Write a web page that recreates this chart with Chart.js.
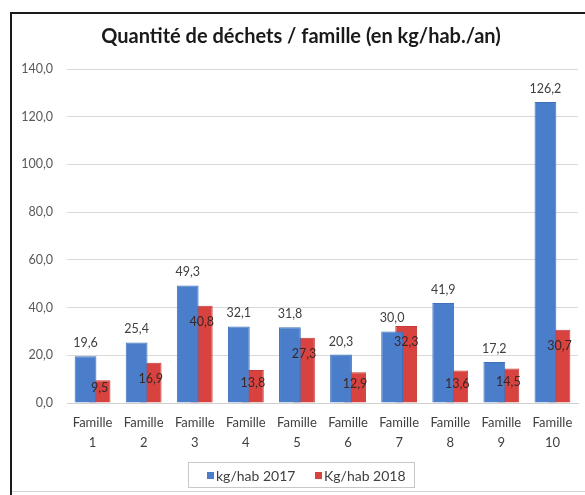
<!DOCTYPE html>
<html>
<head>
<meta charset="utf-8">
<script src="https://cdn.jsdelivr.net/npm/chart.js@4"></script>
<style>
  html, body { margin: 0; padding: 0; background: #fff; }
  #wrap { position: relative; width: 585px; height: 495px; overflow: hidden; }
  #frame { position: absolute; left: 10px; top: 12px; width: 600px; height: 500px;
           border-left: 2px solid #1a1a1a; border-top: 2px solid #1a1a1a; box-sizing: border-box; }
  #bottomLine { position: absolute; left: 12px; top: 491px; width: 600px; height: 1px; background: #d4d4d4; }
  canvas { position: absolute; left: 0; top: 0; }
</style>
</head>
<body>
<div id="wrap">
  <div id="frame"></div>
  <div id="bottomLine"></div>
  <canvas id="chart" width="585" height="495"></canvas>
</div>
<script>
const categories = [
  ["Famille", "1"], ["Famille", "2"], ["Famille", "3"], ["Famille", "4"], ["Famille", "5"],
  ["Famille", "6"], ["Famille", "7"], ["Famille", "8"], ["Famille", "9"], ["Famille", "10"]
];
const values2017 = [19.6, 25.4, 49.3, 32.1, 31.8, 20.3, 30.0, 41.9, 17.2, 126.2];
const values2018 = [9.5, 16.9, 40.8, 13.8, 27.3, 12.9, 32.3, 13.6, 14.5, 30.7];
const seriesNames = ["kg/hab 2017", "Kg/hab 2018"];
const titleText = "Quantité de déchets / famille (en kg/hab./an)";

const FONT = "Lato, 'Open Sans', sans-serif";
const BLUE = "#4a7ecb";
const RED = "#d8423f";

function frNumber(v) {
  return v.toFixed(1).replace(".", ",");
}

const valueLabels = {
  id: "valueLabels",
  afterDatasetsDraw(chart) {
    const ctx = chart.ctx;
    ctx.save();
    ctx.font = "12.5px " + FONT;
    ctx.textAlign = "center";
    ctx.textBaseline = "middle";
    chart.data.datasets.forEach((ds, i) => {
      chart.getDatasetMeta(i).data.forEach((bar, j) => {
        const text = frNumber(ds.data[j]);
        if (i === 0) {
          ctx.fillStyle = "#404040";
          ctx.fillText(text, bar.x, bar.y - 13);
        } else {
          const h = bar.base - bar.y;
          ctx.fillStyle = "#3a2626";
          ctx.fillText(text, bar.x, bar.y + Math.min(16, h / 2 - 3));
        }
      });
    });
    ctx.restore();
  }
};

const titleAndLegend = {
  id: "titleAndLegend",
  afterDraw(chart) {
    const ctx = chart.ctx;
    ctx.save();
    // titre
    ctx.font = "bold 20px " + FONT;
    ctx.fillStyle = "#1a1a1a";
    ctx.textAlign = "center";
    ctx.textBaseline = "middle";
    ctx.fillText(titleText, 301, 37);

    // légende
    ctx.strokeStyle = "#c8c8c8";
    ctx.lineWidth = 1;
    ctx.strokeRect(188.5, 462.5, 226, 25);
    ctx.font = "14px " + FONT;
    ctx.textAlign = "left";
    const items = [
      { x: 207, color: BLUE, label: seriesNames[0] },
      { x: 315, color: RED, label: seriesNames[1] }
    ];
    items.forEach((it) => {
      ctx.fillStyle = it.color;
      ctx.fillRect(it.x, 472, 7, 7);
      ctx.fillStyle = "#404040";
      ctx.fillText(it.label, it.x + 9, 476);
    });
    ctx.restore();
  }
};

new Chart(document.getElementById("chart"), {
  type: "bar",
  data: {
    labels: categories,
    datasets: [
      {
        label: seriesNames[0],
        data: values2017,
        backgroundColor: BLUE,
        borderColor: "#3f70bb",
        borderWidth: 1,
        categoryPercentage: 0.55,
        barPercentage: 1.55
      },
      {
        label: seriesNames[1],
        data: values2018,
        backgroundColor: RED,
        borderColor: "#c53a37",
        borderWidth: 1,
        categoryPercentage: 0.55,
        barPercentage: 1.55
      }
    ]
  },
  options: {
    responsive: false,
    animation: false,
    layout: { padding: { top: 69, right: 7, left: 0, bottom: 32 } },
    plugins: {
      legend: { display: false },
      title: { display: false },
      tooltip: { enabled: false }
    },
    scales: {
      x: {
        grid: { display: false },
        border: { display: true, color: "#d0d0d0" },
        ticks: {
          font: { family: FONT, size: 13, lineHeight: 1.55 },
          color: "#404040",
          padding: 2,
          maxRotation: 0,
          autoSkip: false
        },
        afterFit(scale) { scale.height = 60; }
      },
      y: {
        min: 0,
        max: 140,
        grid: { color: "#d9d9d9", drawTicks: false },
        border: { display: false },
        ticks: {
          stepSize: 20,
          font: { family: FONT, size: 12.5 },
          color: "#595959",
          padding: 14,
          callback: (v) => frNumber(v)
        },
        afterFit(scale) { scale.width = 67; }
      }
    }
  },
  plugins: [valueLabels, titleAndLegend]
});
</script>
</body>
</html>
